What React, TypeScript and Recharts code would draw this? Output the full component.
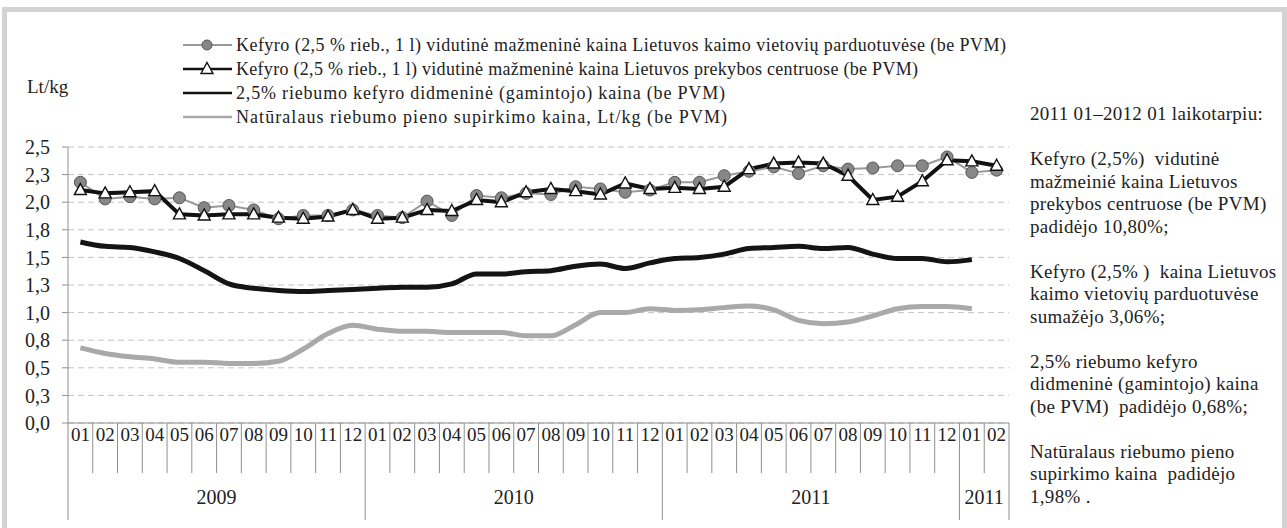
import React from 'react';
import { LineChart, Line, XAxis, YAxis, CartesianGrid, Legend } from 'recharts';

// 2009-01 .. 2012-02 (the last group is labelled "2011" in the source)
const months = [
  '01', '02', '03', '04', '05', '06', '07', '08', '09', '10', '11', '12',
  '01', '02', '03', '04', '05', '06', '07', '08', '09', '10', '11', '12',
  '01', '02', '03', '04', '05', '06', '07', '08', '09', '10', '11', '12',
  '01', '02',
];
const yearLabels = ['2009', '2010', '2011', '2011'];
const yearStarts = [0, 12, 24, 36];
const yearLengths = [12, 12, 12, 2];
const yTicks = [0, 0.25, 0.5, 0.75, 1, 1.25, 1.5, 1.75, 2, 2.25, 2.5];

// Lt/kg
const retailRural = [
  2.18, 2.03, 2.05, 2.03, 2.04, 1.95, 1.97, 1.93, 1.85, 1.88, 1.88, 1.93,
  1.88, 1.86, 2.01, 1.88, 2.06, 2.04, 2.08, 2.07, 2.14, 2.12, 2.09, 2.11,
  2.18, 2.18, 2.24, 2.28, 2.32, 2.26, 2.33, 2.30, 2.31, 2.33, 2.33, 2.41,
  2.27, 2.29,
];
const retailMall = [
  2.11, 2.08, 2.09, 2.10, 1.89, 1.88, 1.89, 1.89, 1.86, 1.85, 1.87, 1.93,
  1.85, 1.86, 1.93, 1.92, 2.02, 2.00, 2.09, 2.12, 2.10, 2.07, 2.17, 2.12,
  2.13, 2.12, 2.14, 2.30, 2.35, 2.36, 2.35, 2.24, 2.02, 2.05, 2.19, 2.38,
  2.37, 2.33,
];
const wholesale = [
  1.64, 1.60, 1.59, 1.55, 1.49, 1.38, 1.26, 1.22, 1.20, 1.19, 1.20, 1.21,
  1.22, 1.23, 1.23, 1.26, 1.35, 1.35, 1.37, 1.38, 1.42, 1.44, 1.40, 1.45,
  1.49, 1.50, 1.53, 1.58, 1.59, 1.60, 1.58, 1.59, 1.53, 1.49, 1.49, 1.46,
  1.48,
];
const milk = [
  0.68, 0.63, 0.60, 0.58, 0.55, 0.55, 0.54, 0.54, 0.56, 0.67, 0.81, 0.885,
  0.85, 0.83, 0.83, 0.82, 0.82, 0.82, 0.79, 0.79, 0.89, 1.00, 1.00, 1.035,
  1.02, 1.025, 1.045, 1.06, 1.025, 0.93, 0.90, 0.915, 0.97, 1.035, 1.055, 1.055,
  1.035,
];

const legendLabels = [
  'Kefyro (2,5 % rieb., 1 l) vidutinė mažmeninė kaina Lietuvos kaimo vietovių parduotuvėse (be PVM)',
  'Kefyro (2,5 % rieb., 1 l) vidutinė mažmeninė kaina Lietuvos prekybos centruose (be PVM)',
  '2,5% riebumo kefyro didmeninė (gamintojo) kaina (be PVM)',
  'Natūralaus riebumo pieno supirkimo kaina, Lt/kg (be PVM)',
];
const legendTextWidths = [770, 682, 489, 491];

const noteLines = [
  '2011 01–2012 01 laikotarpiu:',
  '',
  'Kefyro (2,5%)  vidutinė',
  'mažmeinié kaina Lietuvos',
  'prekybos centruose (be PVM)',
  'padidėjo 10,80%;',
  '',
  'Kefyro (2,5% )  kaina Lietuvos',
  'kaimo vietovių parduotuvėse',
  'sumažėjo 3,06%;',
  '',
  '2,5% riebumo kefyro',
  'didmeninė (gamintojo) kaina',
  '(be PVM)  padidėjo 0,68%;',
  '',
  'Natūralaus riebumo pieno',
  'supirkimo kaina  padidėjo',
  '1,98% .',
];

const data = months.map((m, i) => ({
  i,
  month: m,
  retailRural: retailRural[i],
  retailMall: retailMall[i],
  wholesale: i < wholesale.length ? wholesale[i] : null,
  milk: i < milk.length ? milk[i] : null,
}));

const FONT = "'Liberation Serif', 'Times New Roman', Tinos, serif";
const W = 1287;
const H = 528;
const PLOT_LEFT = 68;
const PLOT_RIGHT = 1009;
const PLOT_BOTTOM = 423;
const BW = (PLOT_RIGHT - PLOT_LEFT) / months.length;
const AXIS_GRAY = '#8f8f8f';

const fmt = (v: number) => v.toFixed(1).replace('.', ',');

const MonthTick = (props: any) => {
  const { x, payload } = props;
  const i = payload.value as number;
  const y0 = PLOT_BOTTOM;
  const isYearStart = yearStarts.includes(i);
  const left = x - BW / 2;
  const g = yearStarts.findIndex((s, k) => s + yearLengths[k] / 2 === i);
  return (
    <g>
      <line x1={left} x2={left} y1={y0} y2={isYearStart ? y0 + 97 : y0 + 50} stroke={AXIS_GRAY} strokeWidth={1} />
      {i === months.length - 1 && (
        <line x1={x + BW / 2} x2={x + BW / 2} y1={y0} y2={y0 + 97} stroke={AXIS_GRAY} strokeWidth={1} />
      )}
      <text x={x} y={y0 + 18} textAnchor="middle" style={{ fontFamily: FONT, fontSize: 19 }} fill="#222">
        {months[i]}
      </text>
      {g >= 0 && (
        <text x={x - BW / 2} y={y0 + 81} textAnchor="middle" style={{ fontFamily: FONT, fontSize: 20 }} fill="#222">
          {yearLabels[g]}
        </text>
      )}
    </g>
  );
};

const CircleDot = (props: any) => {
  const { cx, cy } = props;
  if (cx == null || cy == null) return <g />;
  return <circle cx={cx} cy={cy} r={6} fill="#878787" stroke="#565656" strokeWidth={1} />;
};

const TriangleDot = (props: any) => {
  const { cx, cy } = props;
  if (cx == null || cy == null) return <g />;
  return (
    <path
      d={`M${cx},${cy - 6.5} L${cx + 6},${cy + 4.5} L${cx - 6},${cy + 4.5} Z`}
      fill="#fff"
      stroke="#111"
      strokeWidth={1.4}
    />
  );
};

const renderLegend = () => (
  <div>
    {legendLabels.map((label, k) => (
      <svg key={k} width={840} height={24} style={{ display: 'block' }}>
        {k === 0 && <line x1={0} x2={49} y1={12} y2={12} stroke="#9a9a9a" strokeWidth={2} />}
        {k === 0 && <circle cx={24} cy={12} r={5} fill="#878787" stroke="#565656" strokeWidth={1} />}
        {k === 1 && <line x1={0} x2={49} y1={12} y2={12} stroke="#111" strokeWidth={2.5} />}
        {k === 1 && <TriangleDot cx={24} cy={12} />}
        {k === 2 && <line x1={0} x2={49} y1={12} y2={12} stroke="#111" strokeWidth={2.5} />}
        {k === 3 && <line x1={0} x2={49} y1={12} y2={12} stroke="#a9a9a9" strokeWidth={2.5} />}
        <text
          x={53}
          y={18}
          style={{ fontFamily: FONT, fontSize: 18 }}
          fill="#222"
          textLength={legendTextWidths[k]}
          lengthAdjust="spacing"
        >
          {label}
        </text>
      </svg>
    ))}
  </div>
);

export default function App() {
  return (
    <div style={{ position: 'absolute', left: 0, top: 0, width: W, height: H, background: '#fff', overflow: 'hidden', fontFamily: FONT }}>
      <div
        style={{
          position: 'absolute',
          left: 2,
          top: 7,
          width: W - 2,
          height: H + 20,
          border: '5px solid #d3d3d3',
          boxSizing: 'border-box',
        }}
      />
      <div style={{ position: 'absolute', left: 0, top: 0 }}>
        <LineChart width={W} height={H} data={data} margin={{ top: 147, right: W - PLOT_RIGHT, bottom: 5, left: 8 }}>
          <CartesianGrid horizontal vertical={false} stroke="#c4c4c4" strokeDasharray="6 4" />
          <XAxis
            dataKey="i"
            type="number"
            domain={[-0.5, months.length - 0.5]}
            ticks={months.map((_, i) => i)}
            interval={0}
            height={100}
            tickLine={false}
            tickSize={0}
            tickMargin={0}
            axisLine={{ stroke: AXIS_GRAY }}
            tick={<MonthTick />}
          />
          <YAxis
            domain={[0, 2.5]}
            ticks={yTicks}
            interval={0}
            width={60}
            tickSize={6}
            tickMargin={12}
            tickFormatter={fmt}
            axisLine={{ stroke: AXIS_GRAY }}
            tickLine={{ stroke: AXIS_GRAY }}
            tick={{ fontSize: 20, fill: '#222', style: { fontFamily: FONT } }}
          />
          <Legend
            layout="horizontal"
            verticalAlign="middle"
            align="center"
            content={renderLegend}
            wrapperStyle={{ position: 'absolute', left: 183, top: 33, width: 840, height: 96 }}
          />
          <Line
            dataKey="milk"
            type="monotone"
            stroke="#a9a9a9"
            strokeWidth={5}
            dot={false}
            activeDot={false}
            isAnimationActive={false}
          />
          <Line
            dataKey="wholesale"
            type="monotone"
            stroke="#141414"
            strokeWidth={5}
            dot={false}
            activeDot={false}
            isAnimationActive={false}
          />
          <Line
            dataKey="retailRural"
            type="linear"
            stroke="#9a9a9a"
            strokeWidth={2}
            dot={(p: any) => <CircleDot key={`c${p.index}`} {...p} />}
            activeDot={false}
            isAnimationActive={false}
          />
          <Line
            dataKey="retailMall"
            type="linear"
            stroke="#111"
            strokeWidth={4}
            dot={(p: any) => <TriangleDot key={`t${p.index}`} {...p} />}
            activeDot={false}
            isAnimationActive={false}
          />
        </LineChart>
      </div>
      <div style={{ position: 'absolute', left: 27, top: 76, fontSize: 19, color: '#222', fontFamily: FONT }}>Lt/kg</div>
      <div
        style={{
          position: 'absolute',
          left: 1030,
          top: 103,
          fontSize: 19,
          letterSpacing: '0.3px',
          lineHeight: '22.5px',
          color: '#222',
          fontFamily: FONT,
          whiteSpace: 'pre',
        }}
      >
        {noteLines.map((l, k) => (
          <div key={k} style={{ height: 22.5 }}>{l}</div>
        ))}
      </div>
    </div>
  );
}
